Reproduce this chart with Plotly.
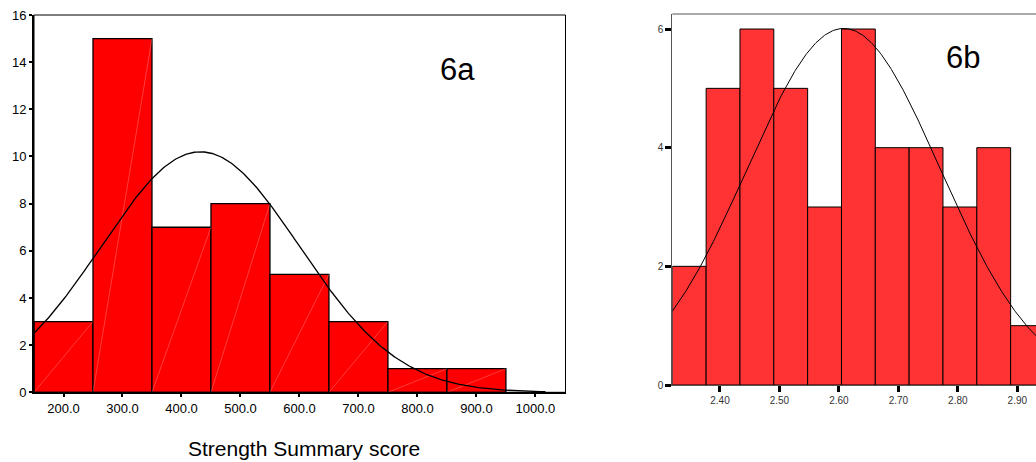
import numpy as np
import plotly.graph_objects as go

W, H = 1036, 462

# ---------------- Data: panel 6a (Strength Summary score) ----------------
a_bin_start = 150.0
a_bin_width = 100.0
a_counts = [3, 15, 7, 8, 5, 3, 1, 1]
a_tickvals = [200, 300, 400, 500, 600, 700, 800, 900, 1000]
a_ticktext = ["200.0", "300.0", "400.0", "500.0", "600.0", "700.0", "800.0", "900.0", "1000.0"]
a_yticks = [0, 2, 4, 6, 8, 10, 12, 14, 16]
a_mean, a_sd, a_n = 432.0, 168.2, 43
a_curve_end = 1017.0

# ---------------- Data: panel 6b ----------------
b_bin_start = 2.3198
b_bin_width = 0.0569
b_counts = [2, 5, 6, 5, 3, 6, 4, 4, 3, 4, 1]
b_tickvals = [2.4, 2.5, 2.6, 2.7, 2.8, 2.9]
b_ticktext = ["2.40", "2.50", "2.60", "2.70", "2.80", "2.90"]
b_yticks = [0, 2, 4, 6]
b_mean, b_sd, b_n = 2.608, 0.1624, 43

FONT = "Liberation Sans, Arial, sans-serif"


def centers(start, width, counts):
    return [start + width * (i + 0.5) for i in range(len(counts))]


def normal_curve(x, mean, sd, n, w):
    return n * w / (sd * np.sqrt(2 * np.pi)) * np.exp(-0.5 * ((x - mean) / sd) ** 2)


fig = go.Figure()

# ---- 6a bars
xa = centers(a_bin_start, a_bin_width, a_counts)
fig.add_trace(go.Bar(
    x=xa, y=a_counts, width=a_bin_width,
    marker=dict(color="#FF0000", line=dict(color="black", width=1.3)),
    xaxis="x", yaxis="y", showlegend=False, hoverinfo="skip"))

# faint diagonal artefact lines inside 6a bars
dx, dy = [], []
for i, c in enumerate(a_counts):
    l = a_bin_start + a_bin_width * i
    r = l + a_bin_width
    dx += [l, r, None]
    dy += [0, c, None]
fig.add_trace(go.Scatter(x=dx, y=dy, mode="lines",
                         line=dict(color="rgba(255,200,200,0.5)", width=0.6),
                         xaxis="x", yaxis="y", showlegend=False, hoverinfo="skip"))

# 6a normal curve
cx = np.linspace(a_bin_start, a_curve_end, 400)
fig.add_trace(go.Scatter(x=cx, y=normal_curve(cx, a_mean, a_sd, a_n, a_bin_width),
                         mode="lines", line=dict(color="black", width=1.3),
                         xaxis="x", yaxis="y", showlegend=False, hoverinfo="skip"))

# ---- 6b bars
xb = centers(b_bin_start, b_bin_width, b_counts)
fig.add_trace(go.Bar(
    x=xb, y=b_counts, width=b_bin_width,
    marker=dict(color="#FF3333", line=dict(color="black", width=1)),
    xaxis="x2", yaxis="y2", showlegend=False, hoverinfo="skip"))

b_end = b_bin_start + b_bin_width * len(b_counts)
cxb = np.linspace(b_bin_start, b_end, 400)
fig.add_trace(go.Scatter(x=cxb, y=normal_curve(cxb, b_mean, b_sd, b_n, b_bin_width),
                         mode="lines", line=dict(color="black", width=1),
                         xaxis="x2", yaxis="y2", showlegend=False, hoverinfo="skip"))

a_x0, a_x1 = 34.0, 565.5
a_ytop, a_ybot = 15.0, 392.3
b_x0 = 672.3
b_ytop, b_ybot = 14.0, 385.0
b_xmax = 2.40 + (W - 720.0) / 594.6

common_a = dict(showgrid=False, zeroline=False, ticks="outside", ticklen=3, tickwidth=2,
                tickcolor="black", showline=True, linecolor="black", linewidth=2,
                automargin=False,
                tickfont=dict(family=FONT, size=13, color="black"))
common_b = dict(showgrid=False, zeroline=False, ticks="outside", ticklen=6, tickwidth=3,
                tickcolor="black", showline=True, linecolor="#555555", linewidth=1,
                automargin=False,
                tickfont=dict(family=FONT, size=10, color="#333333"))

fig.update_layout(
    width=W, height=H,
    margin=dict(l=0, r=0, t=0, b=0),
    paper_bgcolor="white", plot_bgcolor="white",
    barmode="overlay",
    xaxis=dict(domain=[a_x0 / W, a_x1 / W], range=[a_bin_start, 1051],
               tickmode="array", tickvals=a_tickvals, ticktext=a_ticktext,
               anchor="y", **common_a),
    yaxis=dict(domain=[(H - a_ybot) / H, (H - a_ytop) / H], range=[0, 16],
               tickmode="array", tickvals=a_yticks, anchor="x", **common_a),
    xaxis2=dict(domain=[b_x0 / W, 1.0], range=[b_bin_start, b_xmax],
                tickmode="array", tickvals=b_tickvals, ticktext=b_ticktext,
                anchor="y2", **common_b),
    yaxis2=dict(domain=[(H - b_ybot) / H, (H - b_ytop) / H], range=[0, (b_ybot - b_ytop) / 59.33],
                tickmode="array", tickvals=b_yticks, anchor="x2", **common_b),
    shapes=[
        dict(type="rect", xref="x domain", yref="y domain", x0=0, x1=1, y0=0, y1=1,
             line=dict(color="black", width=1), layer="above"),
        dict(type="line", xref="x2 domain", yref="y2 domain", x0=0, x1=1, y0=1, y1=1,
             line=dict(color="#555555", width=1), layer="above"),
    ],
    annotations=[
        dict(text="Strength Summary score", xref="paper", yref="paper",
             x=304 / W, y=(H - 448) / H, xanchor="center", yanchor="middle",
             showarrow=False, font=dict(family=FONT, size=21, color="black")),
        dict(text="6a", xref="paper", yref="paper",
             x=457.5 / W, y=(H - 69) / H, xanchor="center", yanchor="middle",
             showarrow=False, font=dict(family=FONT, size=31, color="black")),
        dict(text="6b", xref="paper", yref="paper",
             x=962.5 / W, y=(H - 58) / H, xanchor="center", yanchor="middle",
             showarrow=False, font=dict(family=FONT, size=31, color="black")),
    ],
)

fig.write_html("out.html",
               config={"displayModeBar": False},
               post_script="document.body.style.margin='0';document.body.style.overflow='hidden';")
